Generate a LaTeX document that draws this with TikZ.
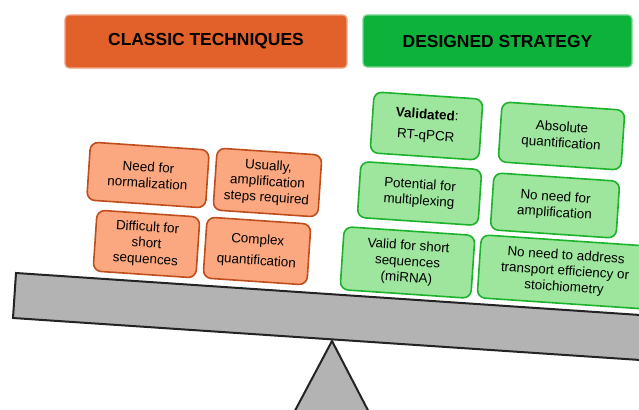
\documentclass[tikz,border=0pt]{standalone}
\usepackage{fontspec}
\setmainfont{Liberation Sans}
\definecolor{classichead}{HTML}{E2612A}
\definecolor{designhead}{HTML}{0DB23A}
\definecolor{orfill}{HTML}{FBA881}
\definecolor{ordraw}{HTML}{BF4E1C}
\definecolor{grfill}{HTML}{9EE69E}
\definecolor{grdraw}{HTML}{1CB22B}
\definecolor{beamgray}{HTML}{B3B3B3}
\definecolor{beamline}{HTML}{242424}
\tikzset{
  head/.style={rounded corners=4bp, inner sep=0pt, line width=1.2bp,
    font=\bfseries\fontsize{17.5}{20}\selectfont},
  conbox/.style={rounded corners=8bp, line width=1.6bp, align=center,
    inner sep=0pt, rotate=-3.86, font=\fontsize{13.5}{16}\selectfont},
  classicbox/.style={conbox, fill=orfill, draw=ordraw},
  designbox/.style={conbox, fill=grfill, draw=grdraw},
  balance/.style={fill=beamgray, draw=beamline, line width=2bp, line join=miter},
}
\begin{document}
\begin{tikzpicture}[x=1bp, y=1bp]
\useasboundingbox (0,0) rectangle (639,409);
\clip (0,0) rectangle (639,409);

% balance: fulcrum and tilted beam
\draw[balance] (290,-11) -- (332,68) -- (373,-11);
\draw[balance] (16,136) -- (670,92) -- (670,47) -- (13,91) -- cycle;

% column headers
\node[head, fill=classichead, draw=classichead!55!white,
  minimum width=282bp, minimum height=53bp] (classic) at (206,367.5)
  {CLASSIC TECHNIQUES};
\node[head, fill=designhead, draw=designhead!55!white,
  minimum width=269bp, minimum height=52bp] (design) at (497.5,368)
  {DESIGNED STRATEGY};

% drawbacks of the classic techniques
\node[classicbox, minimum width=119bp, minimum height=58bp] (norm) at (148,234)
  {Need for\\normalization};
\node[classicbox, minimum width=105bp, minimum height=62bp] (ampl) at (267.5,226.5)
  {Usually,\\amplification\\steps required};
\node[classicbox, minimum width=103bp, minimum height=61bp] (short) at (146.5,165)
  {Difficult for\\short\\sequences};
\node[classicbox, minimum width=104bp, minimum height=61bp] (quant) at (257,158)
  {Complex\\[5bp]quantification};

% advantages of the designed strategy
\node[designbox, minimum width=109bp, minimum height=61bp] (valid) at (426.5,283)
  {\textbf{Validated}:\\[5bp]RT-qPCR};
\node[designbox, minimum width=123bp, minimum height=60bp] (abs) at (561.5,273)
  {Absolute\\quantification};
\node[designbox, minimum width=121bp, minimum height=56bp] (multi) at (419.5,215.5)
  {Potential for\\multiplexing};
\node[designbox, minimum width=126bp, minimum height=57bp] (noamp) at (555,203.5)
  {No need for\\amplification};
\node[designbox, minimum width=131bp, minimum height=63bp] (mirna) at (407.5,146.5)
  {Valid for short\\sequences\\(miRNA)};
\node[designbox, minimum width=172bp, minimum height=63bp] (stoich) at (565,137)
  {No need to address\\transport efficiency or\\stoichiometry};
\end{tikzpicture}
\end{document}
